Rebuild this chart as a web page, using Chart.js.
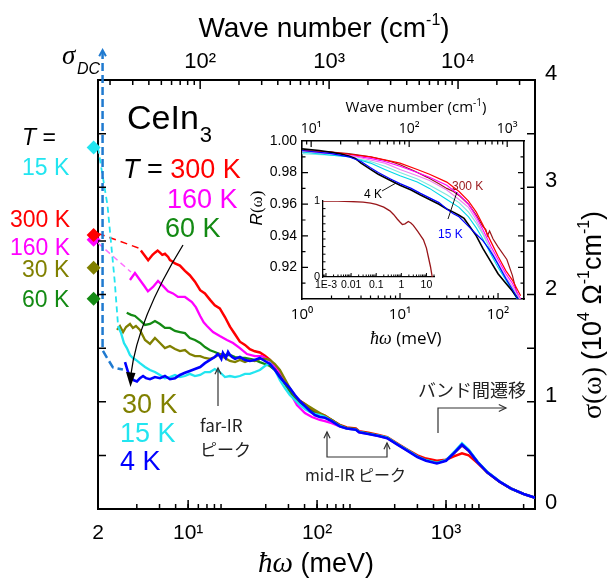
<!DOCTYPE html>
<html>
<head>
<meta charset="utf-8">
<script src="https://cdn.jsdelivr.net/npm/chart.js@4.4.1/dist/chart.umd.min.js"></script>
<style>
  body { margin: 0; background: #fff; }
  #wrap { position: relative; width: 612px; height: 580px; }
  canvas { position: absolute; }
</style>
</head>
<body>
<div id="wrap">
  <canvas id="main" width="612" height="580" style="left:0;top:0"></canvas>
  <canvas id="inset" width="290" height="265" style="left:240px;top:90px"></canvas>
  <canvas id="nest" width="145" height="105" style="left:300px;top:190px"></canvas>
</div>
<script>
// ---- main panel data: photon energy (meV) and sigma (10^4 / ohm cm) ----
const eTail = [115, 130, 150, 170, 200, 212, 250, 300, 350, 420, 500, 600, 700, 850, 1000, 1150, 1330, 1500, 1750, 2100, 2600, 3200, 4000, 4900];

const e300 = [4.3, 4.63, 4.9, 5.06, 5.3, 5.53, 5.8, 6.05, 6.3, 6.61, 7.0, 7.23, 7.5, 7.91, 8.64, 9.45, 10.3, 11.3, 12.4, 13.5, 14.8, 16.1, 17.6, 19.3, 21.1, 23.1, 25.2, 27.6, 30.1, 32.9, 36.0, 39.4, 43.1, 47.1, 51.5, 56.3, 61.5, 67.3, 73.6, 80.5, 88, 96, 105];
const s300 = [2.41, 2.36, 2.32, 2.34, 2.37, 2.39, 2.41, 2.39, 2.37, 2.38, 2.35, 2.32, 2.31, 2.29, 2.27, 2.22, 2.18, 2.12, 2.04, 2.01, 1.95, 1.90, 1.87, 1.79, 1.70, 1.63, 1.56, 1.53, 1.49, 1.47, 1.46, 1.43, 1.39, 1.33, 1.24, 1.17, 1.11, 1.05, 1.01, 0.98, 0.94, 0.91, 0.89];
const t300 = [0.87, 0.83, 0.785, 0.76, 0.75, 0.725, 0.71, 0.69, 0.67, 0.61, 0.555, 0.50, 0.47, 0.45, 0.46, 0.49, 0.52, 0.50, 0.43, 0.34, 0.255, 0.19, 0.14, 0.105];

const e160 = [3.54, 3.87, 4.23, 4.63, 4.88, 5.34, 5.84, 6.38, 6.98, 7.63, 8.34, 9.45, 10.7, 11.5, 12.4, 13.2, 14.0, 15.6, 17.6, 20, 22.3, 25.2, 28.6, 32.9, 37.3, 43.1, 48.8, 55.3, 61.5, 69.8, 80.5, 91.2, 105];
const s160 = [2.135, 2.20, 2.135, 2.07, 2.03, 2.07, 2.126, 2.08, 2.03, 2.01, 1.977, 1.977, 1.93, 1.88, 1.80, 1.74, 1.706, 1.65, 1.613, 1.576, 1.548, 1.50, 1.445, 1.426, 1.426, 1.38, 1.315, 1.20, 1.09, 0.97, 0.895, 0.858, 0.83];
const t160 = [0.82, 0.80, 0.77, 0.75, 0.74, 0.715, 0.70, 0.68, 0.66, 0.60, 0.545, 0.49, 0.455, 0.43, 0.455, 0.52, 0.59, 0.54, 0.44, 0.34, 0.255, 0.19, 0.14, 0.105];

const e60 = [3.34, 3.61, 3.87, 4.23, 4.63, 5.06, 5.53, 6.05, 6.61, 7.23, 7.91, 8.64, 9.45, 10.3, 11.3, 12.4, 13.5, 14.8, 16.1, 17.6, 19.3, 21.1, 23.1, 25.2, 27.6, 30.1, 32.9, 36.0, 39.4, 43.1, 47.1, 51.5, 56.3, 61.5, 67.3, 73.6, 80.5, 88, 96, 105];
const s60 = [1.83, 1.81, 1.80, 1.76, 1.716, 1.725, 1.753, 1.725, 1.688, 1.688, 1.66, 1.65, 1.64, 1.594, 1.576, 1.548, 1.51, 1.48, 1.464, 1.445, 1.436, 1.436, 1.417, 1.408, 1.408, 1.40, 1.39, 1.37, 1.352, 1.333, 1.296, 1.24, 1.166, 1.10, 1.035, 0.988, 0.96, 0.923, 0.895, 0.876];
const t60 = [0.86, 0.83, 0.78, 0.755, 0.745, 0.72, 0.705, 0.685, 0.665, 0.605, 0.55, 0.49, 0.455, 0.43, 0.455, 0.52, 0.595, 0.545, 0.44, 0.34, 0.255, 0.19, 0.14, 0.105];

const e30 = [2.81, 2.96, 3.13, 3.30, 3.54, 3.73, 3.94, 4.23, 4.63, 5.06, 5.53, 6.05, 6.61, 7.23, 7.91, 8.64, 9.45, 10.3, 11.3, 12.4, 13.5, 14.8, 16.1, 17.6, 19.3, 21.1, 23.1, 25.2, 27.6, 30.1, 32.9, 36.0, 39.4, 43.1, 47.1, 51.5, 56.3, 61.5, 67.3, 73.6, 80.5, 88, 96, 105];
const s30 = [1.67, 1.706, 1.65, 1.697, 1.725, 1.688, 1.706, 1.67, 1.576, 1.54, 1.594, 1.548, 1.50, 1.52, 1.492, 1.473, 1.482, 1.445, 1.426, 1.426, 1.408, 1.40, 1.417, 1.445, 1.408, 1.38, 1.37, 1.39, 1.37, 1.39, 1.38, 1.40, 1.40, 1.39, 1.352, 1.296, 1.212, 1.128, 1.054, 1.007, 0.979, 0.951, 0.923, 0.895];
const t30 = [0.87, 0.83, 0.78, 0.755, 0.745, 0.72, 0.705, 0.685, 0.665, 0.605, 0.55, 0.49, 0.455, 0.43, 0.455, 0.52, 0.595, 0.545, 0.44, 0.34, 0.255, 0.19, 0.14, 0.105];

const e15 = [2.86, 3.02, 3.18, 3.35, 3.54, 3.73, 3.94, 4.23, 4.63, 5.06, 5.53, 6.05, 6.61, 7.23, 7.91, 8.64, 9.45, 10.3, 11.3, 12.4, 13.5, 14.8, 16.1, 17.6, 19.3, 21.1, 23.1, 25.2, 27.6, 30.1, 32.9, 36.0, 39.4, 43.1, 47.1, 51.5, 56.3, 61.5, 67.3, 73.6, 80.5, 88, 96, 105];
const s15 = [1.706, 1.64, 1.548, 1.50, 1.436, 1.408, 1.39, 1.36, 1.324, 1.296, 1.277, 1.25, 1.22, 1.23, 1.25, 1.23, 1.24, 1.26, 1.24, 1.25, 1.277, 1.277, 1.305, 1.277, 1.23, 1.24, 1.23, 1.24, 1.26, 1.26, 1.277, 1.296, 1.333, 1.36, 1.296, 1.20, 1.128, 1.063, 1.016, 0.97, 0.932, 0.904, 0.886, 0.876];
const t15 = [0.86, 0.82, 0.775, 0.75, 0.74, 0.72, 0.70, 0.685, 0.665, 0.605, 0.55, 0.49, 0.455, 0.43, 0.455, 0.53, 0.615, 0.555, 0.445, 0.345, 0.26, 0.19, 0.14, 0.105];

const e4 = [3.24, 3.42, 3.61, 3.80, 4.01, 4.23, 4.47, 4.71, 5.06, 5.53, 6.05, 6.61, 7.23, 7.91, 8.64, 9.45, 10.3, 11.3, 12.4, 13.5, 14.8, 16.1, 17.0, 17.6, 18.1, 18.6, 19.6, 20.4, 21.1, 21.9, 23.1, 25.2, 27.6, 30.1, 32.9, 36.0, 39.4, 43.1, 47.1, 51.5, 56.3, 61.5, 67.3, 73.6, 80.5, 88, 96, 105];
const s4 = [1.37, 1.277, 1.22, 1.20, 1.19, 1.22, 1.24, 1.22, 1.21, 1.23, 1.22, 1.24, 1.21, 1.22, 1.25, 1.27, 1.287, 1.305, 1.324, 1.36, 1.39, 1.417, 1.445, 1.426, 1.40, 1.455, 1.408, 1.464, 1.436, 1.417, 1.40, 1.417, 1.39, 1.38, 1.39, 1.408, 1.38, 1.352, 1.296, 1.23, 1.175, 1.128, 1.063, 1.007, 0.96, 0.914, 0.876, 0.858];
const t4 = [0.85, 0.82, 0.77, 0.75, 0.74, 0.715, 0.70, 0.68, 0.66, 0.60, 0.545, 0.485, 0.45, 0.425, 0.45, 0.52, 0.60, 0.545, 0.44, 0.34, 0.255, 0.19, 0.14, 0.105];

// sigma_DC extrapolations (dashed) and DC values (diamonds)
const eDc4 = [2.17, 2.17, 2.35, 2.61, 3.12];
const sDc4 = [4.27, 1.48, 1.41, 1.32, 1.30];
const eDc15 = [2.0, 2.37, 2.69, 2.86];
const sDc15 = [3.37, 2.83, 2.135, 1.715];
const eDc160 = [2.0, 3.6];
const sDc160 = [2.48, 2.21];
const eDc300 = [2.0, 4.2];
const sDc300 = [2.57, 2.43];
const dcTemps = ['15 K', '160 K', '300 K', '30 K', '60 K'];
const dcSigma = [3.37, 2.51, 2.555, 2.25, 1.96];
// diamonds sit just left of the axis; alternating last digit keeps them unsorted so none is culled
const dcE = [1.85, 1.849, 1.85, 1.849, 1.85];
const dcColors = ['#22e5f0', '#ff00ff', '#ff0000', '#808000', '#138a13'];

// ---- inset: reflectivity R(omega) ----
const eR4 = [1, 1.5, 2, 2.5, 3, 3.5, 4, 5, 6, 8, 10, 13, 16, 20, 25, 30, 35, 40, 45, 50, 60, 70, 80, 100, 120, 140, 160];
const rR4 = [0.995, 0.994, 0.9928, 0.9918, 0.9905, 0.989, 0.986, 0.982, 0.979, 0.975, 0.972, 0.969, 0.966, 0.963, 0.960, 0.957, 0.955, 0.953, 0.951, 0.947, 0.940, 0.932, 0.926, 0.916, 0.910, 0.905, 0.900];
const eR15 = [1, 2, 3, 4, 5, 6, 8, 10, 13, 16, 20, 25, 30, 35, 40, 50, 60, 70, 80, 90, 100, 120, 140, 160];
const rR15 = [0.994, 0.992, 0.990, 0.987, 0.983, 0.980, 0.976, 0.973, 0.970, 0.967, 0.964, 0.961, 0.957, 0.954, 0.952, 0.946, 0.941, 0.937, 0.932, 0.927, 0.922, 0.913, 0.906, 0.900];
const eRmid = [1, 2, 3, 5, 7, 10, 15, 20, 30, 40, 50, 60, 70, 85, 100, 120, 140, 170];
const rRcyan = [0.993, 0.991, 0.990, 0.986, 0.982, 0.978, 0.974, 0.970, 0.963, 0.958, 0.952, 0.945, 0.938, 0.928, 0.920, 0.912, 0.905, 0.896];
const rRlcyan = [0.992, 0.991, 0.990, 0.987, 0.984, 0.980, 0.976, 0.972, 0.966, 0.961, 0.955, 0.948, 0.941, 0.930, 0.922, 0.913, 0.907, 0.898];
const rRmag = [0.993, 0.992, 0.991, 0.989, 0.987, 0.984, 0.980, 0.977, 0.972, 0.966, 0.960, 0.952, 0.944, 0.933, 0.925, 0.916, 0.910, 0.900];
const rRviol = [0.993, 0.992, 0.991, 0.988, 0.986, 0.982, 0.978, 0.975, 0.969, 0.963, 0.958, 0.950, 0.942, 0.931, 0.923, 0.914, 0.908, 0.899];
const rRred = [0.994, 0.993, 0.9915, 0.990, 0.988, 0.986, 0.982, 0.979, 0.974, 0.968, 0.962, 0.955, 0.947, 0.936, 0.927, 0.918, 0.912, 0.902];
const eR300 = [1, 2, 3, 5, 8, 10, 14, 19, 25, 30, 35, 41, 50, 60, 70, 75, 78, 82, 89, 100, 123, 140, 155, 170, 184];
const rR300 = [0.994, 0.993, 0.992, 0.990, 0.987, 0.985, 0.981, 0.977, 0.973, 0.970, 0.968, 0.965, 0.960, 0.953, 0.946, 0.944, 0.940, 0.943, 0.938, 0.933, 0.925, 0.915, 0.904, 0.893, 0.885];

// ---- nested inset: extrapolated R over wide range ----
const eWide = [0.00076, 0.001, 0.003, 0.01, 0.03, 0.06, 0.1, 0.2, 0.35, 0.5, 0.7, 0.9, 1.1, 1.4, 1.9, 2.4, 3, 4.5, 7.6, 10, 12, 14.5, 17];
const rWide = [1.0, 1.0, 0.998, 0.993, 0.985, 0.972, 0.955, 0.92, 0.87, 0.82, 0.76, 0.72, 0.69, 0.70, 0.73, 0.71, 0.68, 0.60, 0.49, 0.38, 0.26, 0.135, 0.0];

const CM = 8.0655; // cm-1 per meV
const xLab = { 2: '2', 10: '10\u00b9', 100: '10\u00b2', 1000: '10\u00b3' };
const x2Lab = { 100: '10\u00b2', 1000: '10\u00b3', 10000: '10\u2074' };
const ixLab = { 1: '10\u2070', 10: '10\u00b9', 100: '10\u00b2' };
const ix2Lab = { 10: '10\u00b9', 100: '10\u00b2', 1000: '10\u00b3' };
const nxLab = { 0.001: '1E-3', 0.01: '0.01', 0.1: '0.1', 1: '1', 10: '10' };

Chart.defaults.font.family = "'Liberation Sans', Arial, sans-serif";
Chart.defaults.color = '#000';

//helpers
function xy(es, ss) {
  return es.map((e, i) => ({ x: e, y: ss[i] }));
}
function line(data, color, w, extra) {
  return Object.assign({ data: data, borderColor: color, borderWidth: w, pointRadius: 0, fill: false, tension: 0 }, extra || {});
}
function logMinor(lo, hi) {
  let out = [];
  for (let d = lo; d < hi; d *= 10) {
    for (let k = 2; k <= 9; k++) out.push(+(k * d).toPrecision(3));
  }
  return out;
}
function inTicks(c, id, vals, len, lw) {
  const s = c.scales[id], a = c.chartArea, ctx = c.ctx;
  ctx.save();
  ctx.strokeStyle = '#000';
  ctx.lineWidth = lw;
  ctx.beginPath();
  vals.forEach(v => {
    if (v < s.min || v > s.max) return;
    const p = s.getPixelForValue(v);
    if (s.position === 'bottom') { ctx.moveTo(p, a.bottom); ctx.lineTo(p, a.bottom - len); }
    else if (s.position === 'top') { ctx.moveTo(p, a.top); ctx.lineTo(p, a.top + len); }
    else if (s.position === 'left') { ctx.moveTo(a.left, p); ctx.lineTo(a.left + len, p); }
    else { ctx.moveTo(a.right, p); ctx.lineTo(a.right - len, p); }
  });
  ctx.stroke();
  ctx.restore();
}
function txt(ctx, s, x, y, font, color, align) {
  ctx.font = font;
  ctx.fillStyle = color || '#000';
  ctx.textAlign = align || 'left';
  ctx.fillText(s, x, y);
  return ctx.measureText(s).width;
}
// draw [text, font, dy] pieces in a row, centred on cx
function rowText(ctx, parts, cx, y, color) {
  let w = 0;
  parts.forEach(p => { ctx.font = p[1]; w += ctx.measureText(p[0]).width; });
  let x = cx - w / 2;
  ctx.fillStyle = color || '#000';
  ctx.textAlign = 'left';
  parts.forEach(p => { ctx.font = p[1]; ctx.fillText(p[0], x, y + (p[2] || 0)); x += ctx.measureText(p[0]).width; });
}
function chevron(ctx, x, y, ang, len, spread) {
  ctx.beginPath();
  ctx.moveTo(x - len * Math.cos(ang - spread), y - len * Math.sin(ang - spread));
  ctx.lineTo(x, y);
  ctx.lineTo(x - len * Math.cos(ang + spread), y - len * Math.sin(ang + spread));
  ctx.stroke();
}
function fixedTicks(vals) {
  return s => { s.ticks = vals.map(v => ({ value: v })); };
}

const SANS = "'Liberation Sans', Arial, sans-serif";
const SERIF = "'Liberation Serif', 'DejaVu Serif', serif";
const JP = "'Noto Sans CJK JP', sans-serif";

// annotations on the main panel
const mainAnn = {
  id: 'mainAnn',
  afterDraw(c) {
    const ctx = c.ctx;
    inTicks(c, 'x', [10, 100, 1000], 9, 1.5);
    inTicks(c, 'x', logMinor(2, 5000), 5, 1.5);
    inTicks(c, 'x2', [100, 1000, 10000], 9, 1.5);
    inTicks(c, 'x2', logMinor(10, 40000), 5, 1.5);
    inTicks(c, 'y', [0.5, 1, 1.5, 2, 2.5, 3, 3.5], 8, 1.5);
    inTicks(c, 'y2', [0.5, 1, 1.5, 2, 2.5, 3, 3.5], 8, 1.5);

    ctx.save();
    ctx.textBaseline = 'alphabetic';
    // axis titles
    rowText(ctx, [['Wave number (cm', '28px ' + SANS], ['-1', '16px ' + SANS, -12], [')', '28px ' + SANS]], 324, 37);
    let x = 258;
    x += txt(ctx, '\u0127\u03c9', x, 572, 'italic 29px ' + SERIF);
    txt(ctx, ' (meV)', x, 572, '27px ' + SANS);
    ctx.save();
    ctx.translate(601, 315);
    ctx.rotate(-Math.PI / 2);
    rowText(ctx, [['\u03c3(\u03c9) ', '28px ' + SERIF], ['(10', '27px ' + SANS], ['4', '16px ' + SANS, -12], [' \u03a9', '27px ' + SANS],
      ['-1', '16px ' + SANS, -12], ['cm', '27px ' + SANS], ['-1', '16px ' + SANS, -12], [')', '27px ' + SANS]], 0, 0);
    ctx.restore();

    // sigma_DC label and arrow head of the DC line
    txt(ctx, '\u03c3', 62, 64, 'italic 27px ' + SERIF);
    txt(ctx, 'DC', 77, 74, 'italic 16px ' + SANS);
    const xs = c.scales.x, ys = c.scales.y;
    ctx.strokeStyle = '#1f7ad0';
    ctx.lineWidth = 2;
    chevron(ctx, xs.getPixelForValue(eDc4[0]), ys.getPixelForValue(sDc4[0]) - 1, -Math.PI / 2, 7, 0.5);

    // left-hand DC labels
    const L = '23px ' + SANS;
    let w = txt(ctx, 'T', 22, 145, 'italic 23px ' + SANS);
    txt(ctx, ' =', 22 + w, 145, L);
    txt(ctx, dcTemps[0], 22, 175, L, dcColors[0]);
    txt(ctx, dcTemps[2], 10, 227, L, dcColors[2]);
    txt(ctx, dcTemps[1], 10, 255, L, dcColors[1]);
    txt(ctx, dcTemps[3], 22, 277, L, dcColors[3]);
    txt(ctx, dcTemps[4], 22, 307, L, dcColors[4]);

    // compound and temperature labels inside
    w = txt(ctx, 'CeIn', 127, 129, '34px ' + SANS);
    txt(ctx, '3', 127 + w + 1, 142, '22px ' + SANS);
    const B = '27px ' + SANS;
    x = 123;
    x += txt(ctx, 'T', x, 178, 'italic 27px ' + SANS);
    x += txt(ctx, ' = ', x, 178, B);
    txt(ctx, '300 K', x, 178, B, '#ff0000');
    txt(ctx, '160 K', 167, 208, B, '#ff00ff');
    txt(ctx, '60 K', 165, 237, B, '#138a13');
    txt(ctx, '30 K', 122, 413, B, '#808000');
    txt(ctx, '15 K', 120, 442, B, '#22e5f0');
    txt(ctx, '4 K', 120, 470, B, '#0000ff');

    // curved arrow from high T to low T
    ctx.strokeStyle = '#000';
    ctx.fillStyle = '#000';
    ctx.lineWidth = 1.3;
    ctx.beginPath();
    ctx.moveTo(183, 245);
    ctx.quadraticCurveTo(138, 318, 131, 374);
    ctx.stroke();
    ctx.beginPath();
    ctx.moveTo(130.5, 387);
    ctx.lineTo(126, 372);
    ctx.lineTo(135.5, 373);
    ctx.closePath();
    ctx.fill();

    // far-IR peak
    ctx.strokeStyle = '#333';
    ctx.lineWidth = 1.2;
    ctx.beginPath();
    ctx.moveTo(218, 406);
    ctx.lineTo(218, 368);
    ctx.stroke();
    chevron(ctx, 218, 368, -Math.PI / 2, 7, 0.45);
    txt(ctx, 'far-IR', 200, 432, '17px ' + JP, '#222');
    txt(ctx, '\u30d4\u30fc\u30af', 200, 456, '17px ' + JP, '#222');

    // mid-IR peak
    ctx.beginPath();
    ctx.moveTo(327, 432);
    ctx.lineTo(327, 457);
    ctx.lineTo(387, 457);
    ctx.lineTo(387, 443);
    ctx.stroke();
    chevron(ctx, 327, 432, -Math.PI / 2, 7, 0.45);
    chevron(ctx, 387, 443, -Math.PI / 2, 7, 0.45);
    txt(ctx, 'mid-IR \u30d4\u30fc\u30af', 305, 481, '16px ' + JP, '#222');

    // interband transitions
    ctx.beginPath();
    ctx.moveTo(438, 433);
    ctx.lineTo(438, 408);
    ctx.lineTo(506, 408);
    ctx.stroke();
    chevron(ctx, 506, 408, 0, 8, 0.45);
    txt(ctx, '\u30d0\u30f3\u30c9\u9593\u9077\u79fb', 418, 397, '18px ' + JP, '#222');
    ctx.restore();
  }
};

new Chart(document.getElementById('main'), {
  type: 'line',
  data: {
    datasets: [
      { data: xy(dcE, dcSigma), showLine: false, pointStyle: 'rectRot', pointRadius: 7,
        pointBackgroundColor: dcColors, pointBorderColor: dcColors, pointBorderWidth: 0, clip: false },
      line(xy(eDc4, sDc4), '#1f7ad0', 2.5, { borderDash: [8, 4], clip: false }),
      line(xy(e4.concat(eTail), s4.concat(t4)), '#0000ff', 2.6),
      line(xy(eDc15, sDc15), '#22e5f0', 1.8, { borderDash: [6, 4] }),
      line(xy(e15.concat(eTail), s15.concat(t15)), '#22e5f0', 2.3),
      line(xy(e30.concat(eTail), s30.concat(t30)), '#808000', 2.3),
      line(xy(e60.concat(eTail), s60.concat(t60)), '#138a13', 2.3),
      line(xy(eDc160, sDc160), '#ff70ff', 1.5, { borderDash: [6, 4] }),
      line(xy(e160.concat(eTail), s160.concat(t160)), '#ff00ff', 2.3),
      line(xy(eDc300, sDc300), '#ff0000', 1.5, { borderDash: [7, 5] }),
      line(xy(e300.concat(eTail), s300.concat(t300)), '#ff0000', 2.5)
    ]
  },
  options: {
    responsive: false,
    animation: false,
    events: [],
    plugins: { legend: { display: false }, tooltip: { enabled: false } },
    scales: {
      x: {
        type: 'logarithmic', position: 'bottom', min: 2, max: 4900,
        afterBuildTicks: fixedTicks([2, 10, 100, 1000]),
        afterFit: s => { s.height = 71; },
        grid: { display: false, drawTicks: false },
        border: { color: '#000', width: 2 },
        ticks: { callback: v => xLab[v], font: { size: 21 }, padding: 12, maxRotation: 0, autoSkip: false }
      },
      x2: {
        type: 'logarithmic', position: 'top', min: 2 * CM, max: 4900 * CM,
        afterBuildTicks: fixedTicks([100, 1000, 10000]),
        afterFit: s => { s.height = 80; },
        grid: { display: false, drawTicks: false },
        border: { color: '#000', width: 2 },
        ticks: { callback: v => x2Lab[v], font: { size: 22 }, padding: 5, maxRotation: 0, autoSkip: false }
      },
      y: {
        type: 'linear', position: 'right', min: 0, max: 4,
        afterBuildTicks: fixedTicks([0, 1, 2, 3, 4]),
        afterFit: s => { s.width = 77; },
        grid: { display: false, drawTicks: false },
        border: { color: '#000', width: 2 },
        ticks: { font: { size: 22 }, padding: 10, labelOffset: -6 }
      },
      y2: {
        type: 'linear', position: 'left', min: 0, max: 4,
        afterFit: s => { s.width = 98; },
        grid: { display: false, drawTicks: false },
        border: { color: '#000', width: 2 },
        ticks: { display: false }
      }
    }
  },
  plugins: [mainAnn]
});

// ---- inset ----
const insetAnn = {
  id: 'insetAnn',
  afterDraw(c) {
    const ctx = c.ctx;
    inTicks(c, 'x', [10, 100], 6, 1.2);
    inTicks(c, 'x', logMinor(1, 200), 3.5, 1.2);
    inTicks(c, 'x2', [10, 100, 1000], 6, 1.2);
    inTicks(c, 'x2', logMinor(1, 2000), 3.5, 1.2);
    inTicks(c, 'y', [0.92, 0.94, 0.96, 0.98], 6, 1.2);
    inTicks(c, 'y', [0.91, 0.93, 0.95, 0.97, 0.99], 3.5, 1.2);
    inTicks(c, 'y2', [0.92, 0.94, 0.96, 0.98], 6, 1.2);
    inTicks(c, 'y2', [0.91, 0.93, 0.95, 0.97, 0.99], 3.5, 1.2);
    ctx.save();
    const OS = "'Open Sans', " + SANS;
    rowText(ctx, [['Wave number (cm', '15px ' + OS], ['-1', '10px ' + OS, -6], [')', '15px ' + OS]], 176, 22);
    let x = 130;
    x += txt(ctx, '\u0127\u03c9', x, 254, 'italic 18px ' + SERIF);
    txt(ctx, ' (meV)', x, 254, '17px ' + OS);
    ctx.save();
    ctx.translate(22, 118);
    ctx.rotate(-Math.PI / 2);
    rowText(ctx, [['R', 'italic 17px ' + SANS], ['(\u03c9)', '17px ' + SERIF]], 0, 0);
    ctx.restore();
    txt(ctx, '4 K', 124, 108, '12px ' + SANS, '#000');
    txt(ctx, '300 K', 212, 100, '12px ' + SANS, '#99161a');
    txt(ctx, '15 K', 198, 148, '12px ' + SANS, '#0000ff');
    ctx.strokeStyle = '#000';
    ctx.lineWidth = 0.9;
    ctx.beginPath();
    ctx.moveTo(142, 101); ctx.lineTo(156, 93);
    ctx.moveTo(217, 102); ctx.lineTo(208, 129);
    ctx.stroke();
    ctx.restore();
  }
};

new Chart(document.getElementById('inset'), {
  type: 'line',
  data: {
    datasets: [
      line(xy(eR15, rR15), '#0000ff', 1.2),
      line(xy(eR4, rR4), '#000000', 1.6),
      line(xy(eRmid, rRcyan), '#00d8e8', 1.1),
      line(xy(eRmid, rRlcyan), '#7fe8e0', 1.1),
      line(xy(eRmid, rRviol), '#f080f0', 1.1),
      line(xy(eRmid, rRmag), '#ff00ff', 1.1),
      line(xy(eRmid, rRred), '#ff0000', 1.2),
      line(xy(eR300, rR300), '#99161a', 1.2)
    ]
  },
  options: {
    responsive: false,
    animation: false,
    events: [],
    plugins: { legend: { display: false }, tooltip: { enabled: false } },
    scales: {
      x: {
        type: 'logarithmic', position: 'bottom', min: 1, max: 184,
        afterBuildTicks: fixedTicks([1, 10, 100]),
        afterFit: s => { s.height = 56; },
        grid: { display: false, drawTicks: false },
        border: { color: '#000', width: 1.6 },
        ticks: { callback: v => ixLab[v], font: { size: 15, family: "'Open Sans', " + SANS }, padding: 7, maxRotation: 0, autoSkip: false }
      },
      x2: {
        type: 'logarithmic', position: 'top', min: CM, max: 184 * CM,
        afterBuildTicks: fixedTicks([10, 100, 1000]),
        afterFit: s => { s.height = 51; },
        grid: { display: false, drawTicks: false },
        border: { color: '#000', width: 1.6 },
        ticks: { callback: v => ix2Lab[v], font: { size: 14, family: "'Open Sans', " + SANS }, padding: 4, maxRotation: 0, autoSkip: false }
      },
      y: {
        type: 'linear', position: 'left', min: 0.90, max: 1.00,
        afterBuildTicks: fixedTicks([0.92, 0.94, 0.96, 0.98, 1.00]),
        afterFit: s => { s.width = 62; },
        grid: { display: false, drawTicks: false },
        border: { color: '#000', width: 1.6 },
        ticks: { callback: v => Number(v).toFixed(2), font: { size: 14 }, padding: 5 }
      },
      y2: {
        type: 'linear', position: 'right', min: 0.90, max: 1.00,
        afterFit: s => { s.width = 6; },
        grid: { display: false, drawTicks: false },
        border: { color: '#000', width: 1.6 },
        ticks: { display: false }
      }
    }
  },
  plugins: [insetAnn]
});

// ---- nested inset ----
const nestAnn = {
  id: 'nestAnn',
  afterDraw(c) {
    inTicks(c, 'x', [0.001, 0.01, 0.1, 1, 10], 4, 1);
    inTicks(c, 'x', logMinor(0.0001, 20), 2.5, 1);
    inTicks(c, 'y', [0.1, 0.2, 0.3, 0.4, 0.5, 0.6, 0.7, 0.8, 0.9], 2.5, 1);
  }
};

new Chart(document.getElementById('nest'), {
  type: 'line',
  data: { datasets: [line(xy(eWide, rWide), '#99161a', 1.3)] },
  options: {
    responsive: false,
    animation: false,
    events: [],
    layout: { padding: { top: 11, right: 11 } },
    plugins: { legend: { display: false }, tooltip: { enabled: false } },
    scales: {
      x: {
        type: 'logarithmic', position: 'bottom', min: 0.00076, max: 20,
        afterBuildTicks: fixedTicks([0.001, 0.01, 0.1, 1, 10]),
        afterFit: s => { s.height = 18; },
        grid: { display: false, drawTicks: false },
        border: { color: '#000', width: 1.3 },
        ticks: { callback: v => nxLab[v], font: { size: 10.5 }, padding: 2, maxRotation: 0, autoSkip: false }
      },
      y: {
        type: 'linear', position: 'left', min: 0, max: 1,
        afterBuildTicks: fixedTicks([0, 1]),
        afterFit: s => { s.width = 23; },
        grid: { display: false, drawTicks: false },
        border: { color: '#000', width: 1.3 },
        ticks: { font: { size: 11 }, padding: 3 }
      }
    }
  },
  plugins: [nestAnn]
});
</script>
</body>
</html>
